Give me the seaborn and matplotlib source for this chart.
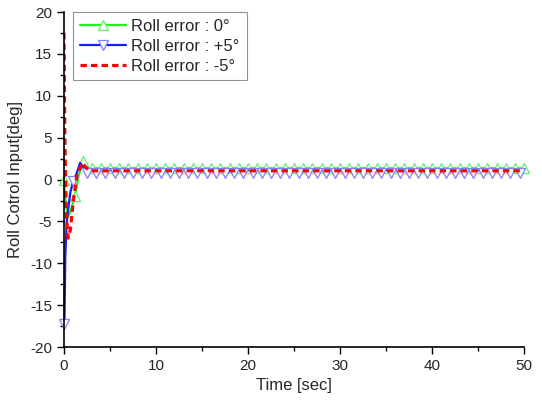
import numpy as np
import pandas as pd
import seaborn as sns
import matplotlib
matplotlib.use("Agg")
import matplotlib.pyplot as plt
from matplotlib.ticker import MultipleLocator

# ---- data ----
steady_t = list(np.arange(2.5, 50.01, 0.5))

green_t = [0.0, 0.2, 0.45, 0.7, 1.2, 1.6, 2.1, 2.5] + list(np.arange(3.0, 50.01, 1.0))
green_y = [0.0, -3.0, -4.5, -3.8, -2.0, 0.5, 2.2, 1.4] + [1.35] * 48

blue_t = [0.05, 0.15, 0.3, 0.5, 0.7, 1.0, 1.4, 1.75, 2.1] + steady_t
blue_y = [-17.3, -9.0, -5.0, -3.2, -1.5, -0.2, 0.8, 2.0, 1.5] + [
    0.8, 1.2, 0.8, 1.2, 0.8, 1.2, 0.8, 1.2, 0.8, 1.2, 0.8, 1.2,
    0.8, 1.2, 0.8, 1.2, 0.8, 1.2, 0.8, 1.2, 0.8, 1.2, 0.8, 1.2,
    0.8, 1.2, 0.8, 1.2, 0.8, 1.2, 0.8, 1.2, 0.8, 1.2, 0.8, 1.2,
    0.8, 1.2, 0.8, 1.2, 0.8, 1.2, 0.8, 1.2, 0.8, 1.2, 0.8, 1.2,
    0.8, 1.2, 0.8, 1.2, 0.8, 1.2, 0.8, 1.2, 0.8, 1.2, 0.8, 1.2,
    0.8, 1.2, 0.8, 1.2, 0.8, 1.2, 0.8, 1.2, 0.8, 1.2, 0.8, 1.2,
    0.8, 1.2, 0.8, 1.2, 0.8, 1.2, 0.8, 1.2, 0.8, 1.2, 0.8, 1.2,
    0.8, 1.2, 0.8, 1.2, 0.8, 1.2, 0.8, 1.2, 0.8, 1.2, 0.8, 1.2]
blue_marks = [0, 5] + list(range(9, len(blue_t), 2))

red_t = [0.0, 0.1, 0.25, 0.45, 0.7, 1.0, 1.4, 2.0, 2.5, 3.0, 50.0]
red_y = [17.5, 5.0, -4.0, -7.0, -6.0, -2.7, 0.5, 2.0, 1.3, 1.05, 1.05]

labels = ["Roll error : 0°", "Roll error : +5°", "Roll error : -5°"]
xticks = [0, 10, 20, 30, 40, 50]
yticks = [-20, -15, -10, -5, 0, 5, 10, 15, 20]

sns.set_style("ticks")
plt.rcParams["font.family"] = ["Liberation Sans", "DejaVu Sans"]
plt.rcParams["axes.unicode_minus"] = False

fig = plt.figure(figsize=(5.42, 4.04), dpi=100)
ax = fig.add_axes([0.118, 0.141, 0.849, 0.829])

green_marks = [0, 4, 6] + list(range(8, len(green_t)))
sns.lineplot(x=green_t, y=green_y, ax=ax, color="#22ee22", lw=1.6, label=labels[0],
             marker="^", markevery=green_marks, markersize=7,
             markerfacecolor="white", markeredgecolor="#66ee66", markeredgewidth=0.9,
             sort=False, estimator=None, clip_on=False)
sns.lineplot(x=blue_t, y=blue_y, ax=ax, color="#1a1aff", lw=1.6, label=labels[1],
             marker="v", markevery=blue_marks, markersize=7,
             markerfacecolor="white", markeredgecolor="#8080ff", markeredgewidth=0.9,
             sort=False, estimator=None, clip_on=False)
sns.lineplot(x=red_t, y=red_y, ax=ax, color="#ff0000", lw=2.3, label=labels[2],
             dashes=False, sort=False, estimator=None)
ax.lines[-1].set_linestyle((0, (2.0, 1.3)))

ax.set_xlim(0, 50)
ax.set_ylim(-20, 20)
ax.set_xticks(xticks)
ax.set_yticks(yticks)
ax.xaxis.set_minor_locator(MultipleLocator(5))
ax.yaxis.set_minor_locator(MultipleLocator(2.5))
ax.tick_params(which="major", direction="out", length=5, width=1, labelsize=11, color="black")
ax.tick_params(which="minor", direction="out", length=3, width=1, color="black")
for s in ["top", "right"]:
    ax.spines[s].set_visible(False)
for s in ["left", "bottom"]:
    ax.spines[s].set_color("black")
    ax.spines[s].set_linewidth(1.2)

ax.set_xlabel("Time [sec]", fontsize=12)
ax.set_ylabel("Roll Cotrol Input[deg]", fontsize=12, labelpad=5)

leg = ax.legend(loc="upper left", bbox_to_anchor=(0.02, 1.0), fontsize=12,
                frameon=True, fancybox=False, edgecolor="#777777",
                handlelength=2.8, borderpad=0.4, labelspacing=0.3, handletextpad=0.3,
                borderaxespad=0.0)
leg.get_frame().set_linewidth(0.8)

fig.savefig("out.png", dpi=100)
